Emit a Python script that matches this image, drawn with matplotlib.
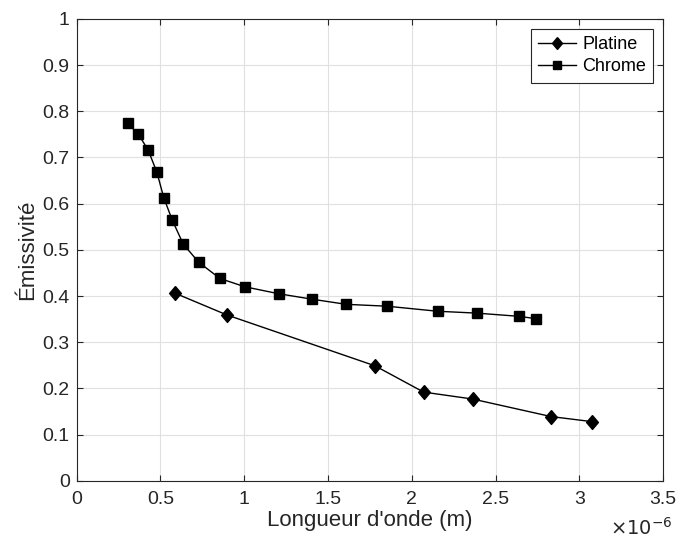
from matplotlib import pyplot as plt
import numpy as np

plt.rcParams['font.family'] = ['Liberation Sans', 'DejaVu Sans']

# longueur d'onde (m) et emissivite
platine_x = np.array([0.588, 0.897, 1.780, 2.071, 2.363, 2.832, 3.077]) * 1e-6
platine_y = [0.406, 0.359, 0.249, 0.192, 0.177, 0.139, 0.128]

chrome_x = np.array([0.304, 0.369, 0.427, 0.479, 0.520, 0.571, 0.637, 0.729, 0.855,
                     1.004, 1.205, 1.407, 1.609, 1.851, 2.155, 2.387, 2.641, 2.740]) * 1e-6
chrome_y = [0.774, 0.750, 0.716, 0.668, 0.613, 0.564, 0.512, 0.473, 0.438,
            0.420, 0.405, 0.393, 0.382, 0.378, 0.367, 0.363, 0.356, 0.351]

# losange un peu plus haut que large (style MATLAB)
losange = [(0, 1), (0.85, 0), (0, -1), (-0.85, 0), (0, 1)]
gris = '#262626'


def main():
    fig = plt.figure(figsize=(6.78, 5.39), dpi=100)
    ax = fig.add_axes([0.113, 0.108, 0.865, 0.857])

    ax.plot(platine_x, platine_y, color='black', lw=1, marker=losange, ms=10, label='Platine')
    ax.plot(chrome_x, chrome_y, color='black', lw=1, marker='s', ms=7, label='Chrome')

    ax.set_xlim(0, 3.5e-6)
    ax.set_ylim(0, 1)
    ax.set_xticks(np.arange(0, 3.51e-6, 0.5e-6))
    ax.set_yticks(np.arange(0, 1.01, 0.1))
    ax.xaxis.set_major_formatter(plt.FuncFormatter(lambda v, p: f'{v * 1e6:g}'))
    ax.yaxis.set_major_formatter(plt.FuncFormatter(lambda v, p: f'{v:g}'))
    ax.text(1.017, -0.117, r'$\times10^{-6}$', transform=ax.transAxes, ha='right',
            va='baseline', fontsize=14, color=gris)

    ax.grid(True, color='#e0e0e0', lw=0.8)
    ax.set_axisbelow(True)
    ax.tick_params(direction='in', top=True, right=True, labelsize=14, length=4,
                   width=0.8, colors=gris)
    ax.tick_params(axis='x', pad=7.5)
    ax.tick_params(axis='y', pad=5)
    for s in ax.spines.values():
        s.set_color(gris)
        s.set_linewidth(0.8)

    ax.set_xlabel("Longueur d'onde (m)", fontsize=16, color=gris, labelpad=1)
    ax.set_ylabel('Émissivité', fontsize=16, color=gris)
    ax.yaxis.set_label_coords(-0.066, 0.5)

    leg = ax.legend(loc='upper right', fontsize=13, fancybox=False, framealpha=1,
                    edgecolor=gris, handlelength=2.1, borderpad=0.4, labelspacing=0.3,
                    handletextpad=0.35, borderaxespad=0.55, markerscale=0.85)
    leg.get_frame().set_linewidth(0.8)

    fig.savefig('out.png', dpi=100)


if __name__ == '__main__':
    main()
